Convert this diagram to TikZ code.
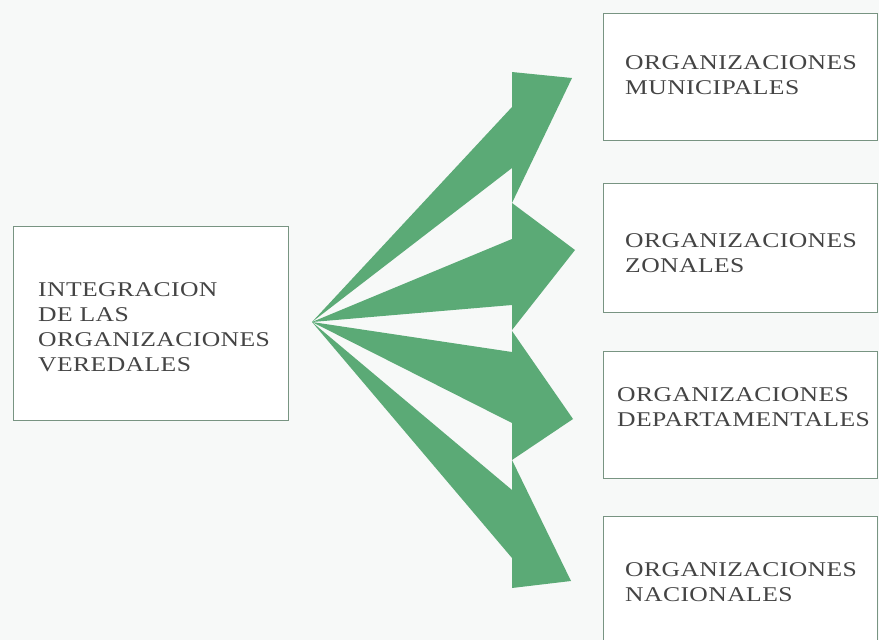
\documentclass[tikz,border=0pt]{standalone}
\usepackage{fontspec}
\setmainfont{Liberation Serif}[FakeStretch=1.22, LetterSpace=2]
\definecolor{arrowgreen}{RGB}{91,170,118}
\definecolor{boxline}{RGB}{120,148,130}
\definecolor{txt}{RGB}{68,68,68}
\definecolor{bg}{RGB}{247,249,248}
\begin{document}
\begin{tikzpicture}[x=1pt,y=-1pt,
  orgbox/.style={draw=boxline, line width=1.3pt, fill=white, inner sep=0, anchor=north west},
  lbl/.style={anchor=north west, inner sep=0, align=left, text=txt, font=\fontsize{21}{25}\selectfont},
  fan/.style={fill=arrowgreen, draw=none}]
\useasboundingbox (0,0) rectangle (879,640);
\fill[bg] (0,0) rectangle (879,640);
\clip (0,0) rectangle (879,640);
% boxes
\node[orgbox, minimum width=275pt, minimum height=194pt] (src) at (13,226) {};
\node[orgbox, minimum width=274pt, minimum height=127pt] (mun) at (603,13) {};
\node[orgbox, minimum width=274pt, minimum height=129pt] (zon) at (603,183) {};
\node[orgbox, minimum width=274pt, minimum height=127pt] (dep) at (603,351) {};
\node[orgbox, minimum width=274pt, minimum height=140pt] (nac) at (603,516) {};
% texts
\node[lbl] (srct) at (38,282) {INTEGRACION\\DE LAS\\ORGANIZACIONES\\VEREDALES};
\node[lbl] (munt) at (625,55) {ORGANIZACIONES\\MUNICIPALES};
\node[lbl] (zont) at (625,233) {ORGANIZACIONES\\ZONALES};
\node[lbl] (dept) at (617,387) {ORGANIZACIONES\\DEPARTAMENTALES};
\node[lbl] (nact) at (625,562) {ORGANIZACIONES\\NACIONALES};
% fan of arrows
\coordinate (apex) at (312,322);
\fill[fan] (apex) -- (512,107) -- (512,168) -- cycle;
\fill[fan] (512,72) -- (572,78) -- (512,203) -- cycle;
\fill[fan] (apex) -- (512,239) -- (512,305) -- cycle;
\fill[fan] (512,203) -- (575,250) -- (512,330) -- cycle;
\fill[fan] (apex) -- (512,352) -- (512,423) -- cycle;
\fill[fan] (512,331) -- (573,419) -- (512,460) -- cycle;
\fill[fan] (apex) -- (512,490) -- (512,558) -- cycle;
\fill[fan] (512,460) -- (571,581) -- (512,588) -- cycle;
\end{tikzpicture}
\end{document}
